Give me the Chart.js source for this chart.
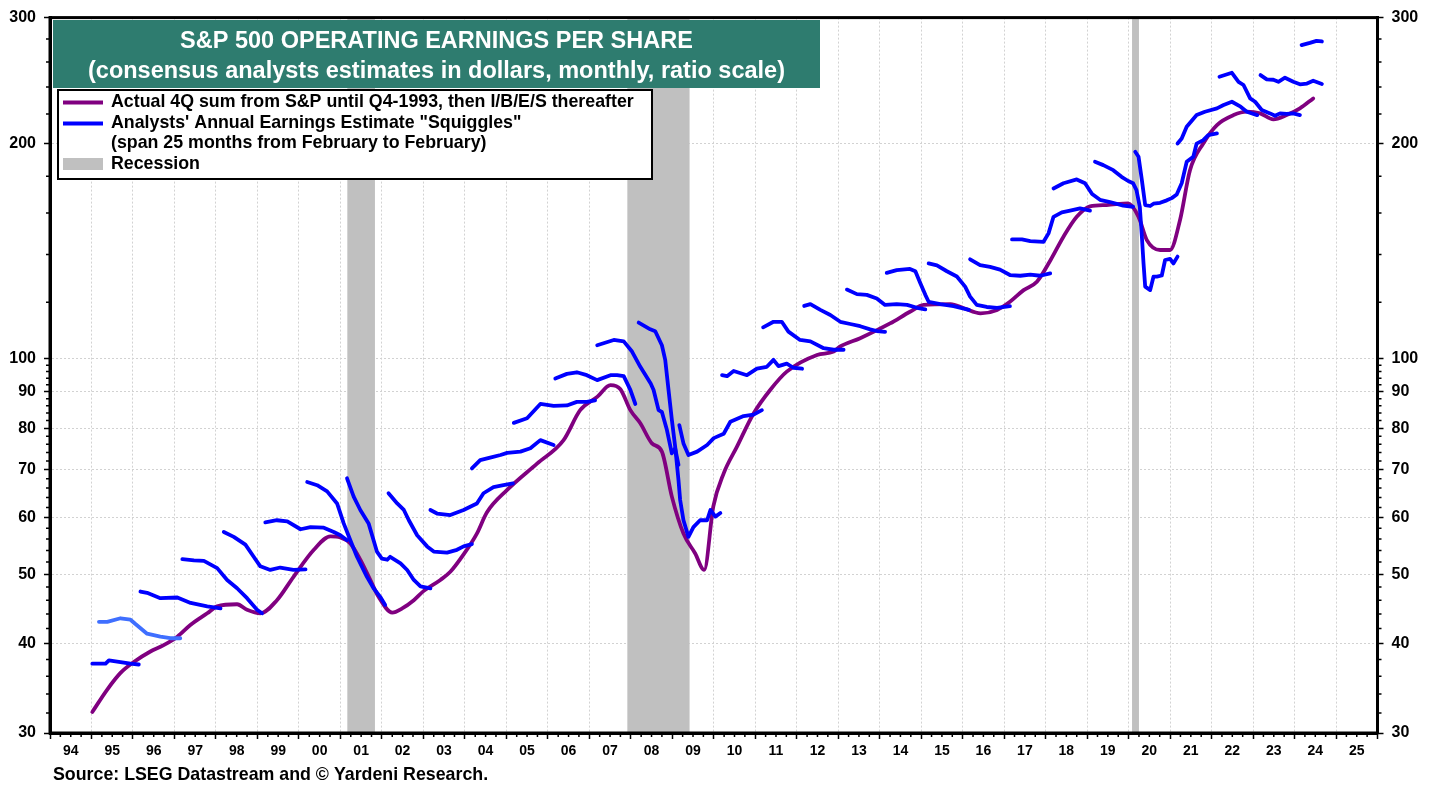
<!DOCTYPE html>
<html><head><meta charset="utf-8">
<script src="https://cdn.jsdelivr.net/npm/chart.js@4.4.1/dist/chart.umd.min.js"></script>
<style>html,body{margin:0;padding:0;background:#fff;overflow:hidden}</style>
</head><body>
<canvas id="c" width="1439" height="787" style="display:block;width:1439px;height:787px"></canvas>
<script>
// ---------------- DATA ----------------
const yearLabels = ['94','95','96','97','98','99','00','01','02','03','04','05','06','07','08','09','10','11','12','13','14','15','16','17','18','19','20','21','22','23','24','25'];
const firstYear = 1994;
const yMajorTicks = [30,40,50,60,70,80,90,100,200,300];
const yMinorTicks = [32,34,36,38,42,44,46,48,52,54,56,58,62,64,66,68,72,74,76,78,82,84,86,88,92,94,96,98,120,140,160,180,220,240,260,280];

const recessionStart = [2001.167, 2007.917, 2020.083];
const recessionEnd   = [2001.833, 2009.417, 2020.25];

// Actual 4Q operating EPS (purple)
const actualDates = [1995.02,1995.38,1995.70,1996.02,1996.42,1996.74,1997.07,1997.39,1997.79,1998.03,1998.51,1998.75,1999.07,1999.47,1999.87,2000.36,2000.76,2001.00,2001.24,2001.48,2001.72,2001.92,2002.25,2002.49,2002.77,2003.01,2003.41,2003.65,2003.97,2004.29,2004.53,2005.02,2005.74,2006.38,2006.78,2007.19,2007.51,2007.75,2007.99,2008.23,2008.51,2008.75,2008.99,2009.27,2009.55,2009.77,2009.99,2010.24,2010.56,2010.96,2011.36,2011.76,2012.49,2012.89,2013.04,2013.53,2014.25,2014.73,2015.06,2015.71,2016.03,2016.43,2016.83,2017.14,2017.47,2017.79,2018.12,2018.43,2018.75,2019.07,2019.47,2019.99,2020.24,2020.44,2020.76,2021.00,2021.24,2021.48,2021.80,2022.13,2022.53,2022.85,2023.17,2023.49,2023.81,2024.13,2024.45];
const actualEPS   = [32.1,34.5,36.4,37.7,39.0,39.8,40.9,42.5,44.1,45.1,45.4,44.6,44.1,46.0,49.6,54.1,56.5,56.3,55.2,52.4,49.1,46.5,44.2,44.8,46.0,47.4,49.1,50.4,53.3,57.0,61.0,65.6,71.4,77.0,84.8,88.5,91.9,90.7,84.8,81.3,76.2,74.2,64.2,57.0,53.5,50.7,62.2,69.2,75.4,83.9,90.5,96.0,101.3,102.4,104.0,106.9,112.1,116.4,119.0,119.3,117.7,115.8,117.1,120.2,124.8,128.2,137.5,148.2,158.0,163.4,164.1,165.0,158.0,146.6,142.0,142.0,156.4,183.6,200.1,212.3,219.2,221.6,220.4,216.2,219.2,224.0,231.3];

// Analysts' annual estimate "squiggles" (one per earnings year)
const squiggleYears = [1995,1996,1997,1998,1999,2000,2001,2002,2003,2004,2005,2006,2007,2008,2009,2010,2011,2012,2013,2014,2015,2016,2017,2018,2019,2020,2021,2022,2023,2024,2025];
const squiggleDates = [
 [1995.02,1995.34,1995.42,1995.70,1995.94,1996.14],
 [1995.18,1995.38,1995.70,1995.94,1996.06,1996.34,1996.66,1996.90,1997.14],
 [1996.18,1996.34,1996.66,1997.07,1997.39,1997.79,1998.11],
 [1997.19,1997.47,1997.71,1998.03,1998.27,1998.51,1998.75,1998.99,1999.11],
 [1998.19,1998.43,1998.71,1998.91,1999.07,1999.31,1999.55,1999.87,2000.16],
 [1999.19,1999.47,1999.72,2000.04,2000.28,2000.60,2000.84,2001.00,2001.16],
 [2000.20,2000.44,2000.68,2000.92,2001.08,2001.24,2001.40,2001.64,2001.80,2001.96,2002.08],
 [2001.16,2001.32,2001.48,2001.68,2001.80,2001.88,2002.00,2002.13,2002.20,2002.45,2002.61,2002.77,2002.93,2003.17],
 [2002.16,2002.37,2002.53,2002.65,2002.85,2003.09,2003.25,2003.57,2003.81,2003.97,2004.17],
 [2003.17,2003.33,2003.65,2003.97,2004.29,2004.45,2004.69,2004.93,2005.16],
 [2004.17,2004.37,2004.61,2004.86,2005.02,2005.34,2005.58,2005.82,2006.14],
 [2005.18,2005.50,2005.82,2006.14,2006.46,2006.70,2006.94,2007.14],
 [2006.18,2006.46,2006.70,2006.94,2007.19,2007.51,2007.67,2007.83,2007.99,2008.11],
 [2007.19,2007.59,2007.83,2008.03,2008.23,2008.48,2008.55,2008.67,2008.75,2008.87,2008.99,2009.07,2009.15],
 [2008.19,2008.47,2008.59,2008.75,2008.83,2008.91,2008.99,2009.07,2009.15,2009.19,2009.27,2009.39,2009.51,2009.67,2009.84,2009.92,2010.04,2010.16],
 [2009.17,2009.27,2009.39,2009.60,2009.84,2010.00,2010.24,2010.40,2010.72,2010.96,2011.16],
 [2010.20,2010.32,2010.48,2010.80,2011.04,2011.28,2011.44,2011.56,2011.76,2011.92,2012.13],
 [2011.19,2011.44,2011.64,2011.80,2012.08,2012.33,2012.65,2012.89,2013.13],
 [2012.18,2012.33,2012.57,2012.81,2013.05,2013.29,2013.53,2013.77,2013.93,2014.13],
 [2013.21,2013.45,2013.69,2013.93,2014.13,2014.41,2014.66,2014.90,2015.10],
 [2014.17,2014.41,2014.73,2014.86,2014.98,2015.10,2015.18,2015.46,2015.78,2016.03,2016.15],
 [2015.18,2015.38,2015.62,2015.86,2016.06,2016.18,2016.34,2016.58,2016.83,2017.14],
 [2016.18,2016.42,2016.66,2016.90,2017.14,2017.39,2017.63,2017.87,2018.11],
 [2017.19,2017.43,2017.63,2017.95,2018.07,2018.19,2018.39,2018.59,2018.83,2019.07],
 [2018.19,2018.43,2018.75,2018.95,2019.12,2019.31,2019.55,2019.87,2020.11],
 [2019.19,2019.39,2019.63,2019.83,2019.99,2020.11,2020.19,2020.27,2020.32,2020.36,2020.40,2020.52,2020.60,2020.68,2020.80,2020.88,2021.00,2021.08,2021.18],
 [2020.16,2020.24,2020.32,2020.40,2020.52,2020.60,2020.76,2020.92,2021.04,2021.16,2021.28,2021.40,2021.56,2021.64,2021.80,2021.92,2022.13],
 [2021.18,2021.28,2021.40,2021.64,2021.84,2022.13,2022.29,2022.49,2022.70,2022.85,2023.10],
 [2022.19,2022.49,2022.65,2022.77,2022.93,2023.05,2023.21,2023.41,2023.53,2023.65,2023.81,2023.97,2024.13],
 [2023.18,2023.33,2023.49,2023.61,2023.77,2023.97,2024.13,2024.30,2024.45,2024.66],
 [2024.17,2024.37,2024.53,2024.66]
];
const squiggleValues = [
 [37.5,37.5,37.9,37.7,37.5,37.4],
 [42.9,42.9,43.4,43.2,42.6,41.3,40.9,40.7,40.7],
 [47.3,47.1,46.3,46.4,45.6,45.1,44.8],
 [52.5,52.3,52.2,51.0,49.1,47.8,46.3,44.6,44.1],
 [57.3,56.4,55.0,52.9,51.3,50.7,51.1,50.7,50.8],
 [59.1,59.5,59.3,57.8,58.2,58.1,57.3,56.7,55.8],
 [67.3,66.6,65.3,62.8,58.9,55.8,52.9,49.6,47.8,46.5,45.3],
 [68.1,64.2,61.5,58.9,55.8,53.8,52.6,52.4,52.9,51.8,50.7,49.1,48.1,47.8],
 [64.9,62.8,61.5,59.5,56.7,54.7,53.8,53.6,54.1,54.7,55.1],
 [61.5,60.8,60.5,61.5,62.8,64.9,66.2,66.6,67.0],
 [70.3,72.2,72.8,73.4,73.9,74.2,75.0,77.0,75.8],
 [81.4,82.6,86.5,86.0,86.1,87.1,87.1,87.5],
 [93.9,95.3,95.8,94.9,93.4,94.9,94.9,94.6,90.5,86.5],
 [104.5,106.3,105.8,102.4,97.5,92.4,90.5,84.8,84.3,79.6,73.8,75.0,71.1],
 [112.4,110.0,109.3,104.5,99.7,90.5,82.2,75.4,67.7,63.5,59.5,56.4,58.2,59.5,59.5,61.5,60.2,60.9],
 [80.8,76.2,73.4,74.2,75.8,77.5,78.6,81.7,83.2,83.6,84.8],
 [94.9,94.6,96.2,94.9,96.9,97.5,99.7,97.7,98.5,97.2,96.9],
 [110.7,112.7,112.7,109.2,106.3,105.8,103.5,103.0,103.0],
 [118.6,119.3,117.1,115.2,112.7,111.9,111.1,110.0,109.4,109.1],
 [125.0,123.2,122.9,121.5,119.0,119.3,119.0,117.9,117.3],
 [131.9,133.1,133.6,132.6,127.6,122.9,120.2,119.3,118.5,117.6,117.1],
 [136.0,135.1,132.6,130.4,126.2,122.2,119.0,118.2,117.9,118.5],
 [137.8,135.2,134.5,133.3,131.0,130.7,131.2,130.7,131.7],
 [146.9,146.9,146.1,145.8,149.8,158.0,160.3,161.2,162.4,161.2],
 [173.1,176.0,178.2,176.0,170.0,166.9,165.7,163.8,163.2],
 [188.6,186.6,183.6,179.7,177.3,176.0,172.2,163.2,148.2,136.0,126.2,124.8,130.3,130.3,130.8,137.5,138.0,136.0,139.0],
 [194.8,191.7,177.8,164.1,163.6,164.8,165.3,166.6,167.8,169.8,176.0,188.6,191.7,200.0,202.2,205.5,206.7],
 [200.0,203.3,211.1,219.2,221.6,224.0,226.4,228.8,225.2,221.6,219.2],
 [248.0,251.2,244.0,241.5,231.3,228.8,222.8,220.4,218.7,220.4,220.0,220.4,219.2],
 [249.3,245.9,245.6,244.0,247.2,244.0,242.0,242.6,244.8,242.3],
 [274.6,276.6,278.4,277.8]
];

const titleLines = ['S&P 500 OPERATING EARNINGS PER SHARE','(consensus analysts estimates in dollars, monthly, ratio scale)'];
const legendLabels = ['Actual 4Q sum from S&P until Q4-1993, then I/B/E/S thereafter','Analysts\' Annual Earnings Estimate "Squiggles"','(span 25 months from February to February)','Recession'];
const sourceText = 'Source: LSEG Datastream and \u00A9 Yardeni Research.';

// ---------------- STYLE ----------------
const PURPLE = '#800080', BLUE = '#0000ff', LIGHTBLUE = '#3f6fff', GRAY = '#c0c0c0', TEAL = '#2e7c6f';
const FONT = '"Liberation Sans", Arial, Helvetica, sans-serif';
const GRID = '#d2d2d2';

const datasets = [];
squiggleYears.forEach((yr, i) => {
  datasets.push({
    label: 'Estimate ' + yr,
    data: squiggleDates[i].map((d, k) => ({x: d, y: squiggleValues[i][k]})),
    borderColor: yr === 1996 ? LIGHTBLUE : BLUE,
    borderWidth: 3.8, pointRadius: 0, tension: 0, order: 0,
    borderJoinStyle: 'round', borderCapStyle: 'round'
  });
});
datasets.push({
  label: 'Actual',
  data: actualDates.map((d, k) => ({x: d, y: actualEPS[k]})),
  borderColor: PURPLE, borderWidth: 3.8, pointRadius: 0,
  cubicInterpolationMode: 'monotone', order: 1,
  borderJoinStyle: 'round', borderCapStyle: 'round'
});

const isInt = v => Math.abs(v - Math.round(v)) < 1e-9;

const decor = {
  id: 'decor',
  beforeDatasetsDraw(chart) {
    const {ctx, chartArea: a, scales: {x}} = chart;
    ctx.save();
    ctx.fillStyle = GRAY;
    for (let i = 0; i < recessionStart.length; i++) {
      const x1 = x.getPixelForValue(recessionStart[i]);
      const x2 = x.getPixelForValue(recessionEnd[i]);
      ctx.fillRect(x1, a.top, x2 - x1, a.bottom - a.top);
    }
    ctx.restore();
  },
  afterDraw(chart) {
    const {ctx, chartArea: a, scales: {x, y}} = chart;
    ctx.save();
    // minor ticks
    ctx.strokeStyle = '#000'; ctx.lineWidth = 1.5;
    ctx.beginPath();
    yMinorTicks.forEach(v => {
      const py = y.getPixelForValue(v);
      ctx.moveTo(a.left - 4, py); ctx.lineTo(a.left, py);
      ctx.moveTo(a.right, py); ctx.lineTo(a.right + 4, py);
    });
    for (let i = 0; i < yearLabels.length; i++) {
      [0.25, 0.5, 0.75].forEach(q => {
        const px = x.getPixelForValue(firstYear + i + q);
        ctx.moveTo(px, a.bottom); ctx.lineTo(px, a.bottom + 4);
      });
    }
    ctx.stroke();
    // frame
    ctx.lineWidth = 3;
    ctx.strokeRect(a.left, a.top, a.right - a.left, a.bottom - a.top);

    // title box
    const tx1 = 53, ty1 = 20, tx2 = 820, ty2 = 88;
    ctx.fillStyle = TEAL;
    ctx.fillRect(tx1, ty1, tx2 - tx1, ty2 - ty1);
    ctx.fillStyle = '#fff';
    ctx.font = 'bold 23.5px ' + FONT;
    ctx.textAlign = 'center'; ctx.textBaseline = 'middle';
    ctx.fillText(titleLines[0], (tx1 + tx2) / 2, 42);
    ctx.fillText(titleLines[1], (tx1 + tx2) / 2, 72);

    // legend box
    const lx1 = 58, ly1 = 90, lx2 = 652, ly2 = 179;
    ctx.fillStyle = '#fff';
    ctx.fillRect(lx1, ly1, lx2 - lx1, ly2 - ly1);
    ctx.strokeStyle = '#000'; ctx.lineWidth = 2;
    ctx.strokeRect(lx1, ly1, lx2 - lx1, ly2 - ly1);
    ctx.lineWidth = 4; ctx.lineCap = 'butt';
    ctx.strokeStyle = PURPLE;
    ctx.beginPath(); ctx.moveTo(63, 102.5); ctx.lineTo(103, 102.5); ctx.stroke();
    ctx.strokeStyle = BLUE;
    ctx.beginPath(); ctx.moveTo(63, 123.5); ctx.lineTo(103, 123.5); ctx.stroke();
    ctx.fillStyle = GRAY;
    ctx.fillRect(63, 158, 40, 12);
    ctx.fillStyle = '#000';
    ctx.font = 'bold 17.8px ' + FONT;
    ctx.textAlign = 'left'; ctx.textBaseline = 'middle';
    ctx.fillText(legendLabels[0], 111, 102.5);
    ctx.fillText(legendLabels[1], 111, 123);
    ctx.fillText(legendLabels[2], 111, 143.5);
    ctx.fillText(legendLabels[3], 111, 164);

    // source
    ctx.font = 'bold 17.8px ' + FONT;
    ctx.fillText(sourceText, 53, 775);
    ctx.restore();
  }
};

const yTickCommon = {
  color: '#000', font: {family: FONT, size: 16, weight: 'bold'}, padding: 8,
  callback: v => yMajorTicks.includes(v) ? String(v) : ''
};

new Chart(document.getElementById('c'), {
  type: 'line',
  data: {datasets},
  options: {
    responsive: false, animation: false, devicePixelRatio: 1,
    layout: {padding: {top: 17.5, left: 0, right: 0, bottom: 0}},
    plugins: {legend: {display: false}, tooltip: {enabled: false}},
    scales: {
      x: {
        type: 'linear', min: firstYear, max: firstYear + yearLabels.length,
        afterBuildTicks: s => {
          const t = [];
          for (let i = 0; i <= yearLabels.length; i++) {
            t.push({value: firstYear + i});
            if (i < yearLabels.length) t.push({value: firstYear + i + 0.5});
          }
          s.ticks = t;
        },
        afterFit: s => { s.height = 54; },
        ticks: {
          autoSkip: false, maxRotation: 0, minRotation: 0, padding: 4,
          color: '#000', font: {family: FONT, size: 14, weight: 'bold'},
          callback: v => {
            const i = v - firstYear - 0.5;
            return Number.isInteger(i) ? yearLabels[i] : '';
          }
        },
        grid: {
          color: c => (c.tick && isInt(c.tick.value)) ? GRID : 'rgba(0,0,0,0)',
          tickColor: c => (c.tick && isInt(c.tick.value)) ? '#000' : 'rgba(0,0,0,0)',
          tickLength: 6, tickWidth: 1.5, lineWidth: 1
        },
        border: {display: true, color: '#000', width: 3, dash: [2, 2]}
      },
      y: {
        type: 'logarithmic', position: 'left', min: 30, max: 300,
        afterBuildTicks: s => { s.ticks = yMajorTicks.map(v => ({value: v})); },
        afterFit: s => { s.width = 50; },
        ticks: yTickCommon,
        grid: {color: GRID, tickColor: '#000', tickLength: 6, tickWidth: 1.5, lineWidth: 1},
        border: {display: true, color: '#000', width: 3, dash: [2, 2]}
      },
      y2: {
        type: 'logarithmic', position: 'right', min: 30, max: 300,
        afterBuildTicks: s => { s.ticks = yMajorTicks.map(v => ({value: v})); },
        afterFit: s => { s.width = 61.5; },
        ticks: yTickCommon,
        grid: {drawOnChartArea: false, tickColor: '#000', tickLength: 6, tickWidth: 1.5},
        border: {display: true, color: '#000', width: 3}
      }
    }
  },
  plugins: [decor]
});
</script>
</body></html>
